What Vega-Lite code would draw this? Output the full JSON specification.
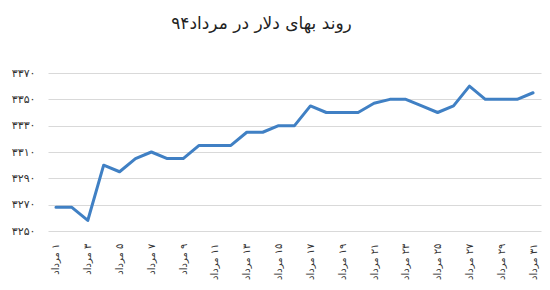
{
  "$schema": "https://vega.github.io/schema/vega-lite/v6.json",
  "autosize": "none",
  "width": 493,
  "height": 158,
  "padding": {"left": 48, "top": 73, "right": 9, "bottom": 59},
  "background": "white",
  "title": {
    "text": "روند بهای دلار در مرداد۹۴",
    "font": "DejaVu Sans",
    "fontSize": 17,
    "fontWeight": "normal",
    "color": "#222222",
    "anchor": "middle",
    "dx": -33,
    "offset": 34
  },
  "config": {
    "view": {"stroke": null},
    "axis": {"labelFont": "DejaVu Sans", "labelColor": "#333333"}
  },
  "data": {
    "values": [
      {"day": 1, "label": "‏۱ مرداد", "price": 3268},
      {"day": 2, "label": "‏۲ مرداد", "price": 3268},
      {"day": 3, "label": "‏۳ مرداد", "price": 3258},
      {"day": 4, "label": "‏۴ مرداد", "price": 3300},
      {"day": 5, "label": "‏۵ مرداد", "price": 3295},
      {"day": 6, "label": "‏۶ مرداد", "price": 3305},
      {"day": 7, "label": "‏۷ مرداد", "price": 3310},
      {"day": 8, "label": "‏۸ مرداد", "price": 3305},
      {"day": 9, "label": "‏۹ مرداد", "price": 3305},
      {"day": 10, "label": "‏۱۰ مرداد", "price": 3315},
      {"day": 11, "label": "‏۱۱ مرداد", "price": 3315},
      {"day": 12, "label": "‏۱۲ مرداد", "price": 3315},
      {"day": 13, "label": "‏۱۳ مرداد", "price": 3325},
      {"day": 14, "label": "‏۱۴ مرداد", "price": 3325},
      {"day": 15, "label": "‏۱۵ مرداد", "price": 3330},
      {"day": 16, "label": "‏۱۶ مرداد", "price": 3330},
      {"day": 17, "label": "‏۱۷ مرداد", "price": 3345},
      {"day": 18, "label": "‏۱۸ مرداد", "price": 3340},
      {"day": 19, "label": "‏۱۹ مرداد", "price": 3340},
      {"day": 20, "label": "‏۲۰ مرداد", "price": 3340},
      {"day": 21, "label": "‏۲۱ مرداد", "price": 3347},
      {"day": 22, "label": "‏۲۲ مرداد", "price": 3350},
      {"day": 23, "label": "‏۲۳ مرداد", "price": 3350},
      {"day": 24, "label": "‏۲۴ مرداد", "price": 3345},
      {"day": 25, "label": "‏۲۵ مرداد", "price": 3340},
      {"day": 26, "label": "‏۲۶ مرداد", "price": 3345},
      {"day": 27, "label": "‏۲۷ مرداد", "price": 3360},
      {"day": 28, "label": "‏۲۸ مرداد", "price": 3350},
      {"day": 29, "label": "‏۲۹ مرداد", "price": 3350},
      {"day": 30, "label": "‏۳۰ مرداد", "price": 3350},
      {"day": 31, "label": "‏۳۱ مرداد", "price": 3355}
    ]
  },
  "mark": {"type": "line", "color": "#4080C4", "strokeWidth": 3, "strokeJoin": "round", "strokeCap": "round"},
  "encoding": {
    "x": {
      "field": "label",
      "type": "ordinal",
      "sort": null,
      "scale": {"type": "point", "padding": 0.5},
      "axis": {
        "title": null,
        "values": ["‏۱ مرداد", "‏۳ مرداد", "‏۵ مرداد", "‏۷ مرداد", "‏۹ مرداد", "‏۱۱ مرداد", "‏۱۳ مرداد", "‏۱۵ مرداد", "‏۱۷ مرداد", "‏۱۹ مرداد", "‏۲۱ مرداد", "‏۲۳ مرداد", "‏۲۵ مرداد", "‏۲۷ مرداد", "‏۲۹ مرداد", "‏۳۱ مرداد"],
        "labelAngle": -90,
        "labelFontSize": 10,
        "labelPadding": 12,
        "ticks": false,
        "domain": false,
        "grid": false
      }
    },
    "y": {
      "field": "price",
      "type": "quantitative",
      "scale": {"domain": [3250, 3370], "nice": false, "zero": false},
      "axis": {
        "title": null,
        "values": [3250, 3270, 3290, 3310, 3330, 3350, 3370],
        "labelExpr": "datum.value == 3250 ? '۳۲۵۰' : datum.value == 3270 ? '۳۲۷۰' : datum.value == 3290 ? '۳۲۹۰' : datum.value == 3310 ? '۳۳۱۰' : datum.value == 3330 ? '۳۳۳۰' : datum.value == 3350 ? '۳۳۵۰' : '۳۳۷۰'",
        "labelFontSize": 11,
        "labelPadding": 13,
        "ticks": false,
        "domain": false,
        "grid": true,
        "gridColor": "#D9D9D9",
        "gridWidth": 1.2,
        "gridOpacity": 1
      }
    }
  }
}
